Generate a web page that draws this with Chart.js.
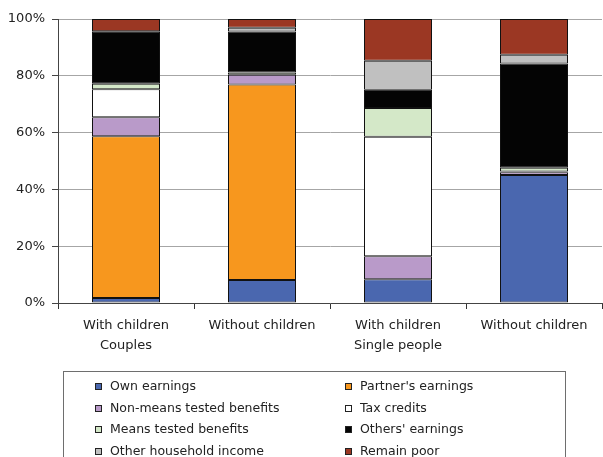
<!DOCTYPE html>
<html><head><meta charset="utf-8">
<script src="https://cdn.jsdelivr.net/npm/chart.js@4/dist/chart.umd.min.js"></script>
<style>html,body{margin:0;padding:0;background:#fff;overflow:hidden}</style>
</head>
<body>
<canvas id="c" width="603" height="457"></canvas>
<script>
// ---- data ----
const categories = [["With children", "Couples"], "Without children", ["With children", "Single people"], "Without children"];
const seriesNames = ["Own earnings", "Partner's earnings", "Non-means tested benefits", "Tax credits",
                     "Means tested benefits", "Others' earnings", "Other household income", "Remain poor"];
const ownEarnings      = [1.8, 8.1, 8.4, 45.1];
const partnersEarnings = [56.9, 68.8, null, null];
const nonMeansTested   = [6.7, 3.5, 8.1, 0.9];
const taxCredits       = [9.9, null, 42.0, 0.3];
const meansTested      = [1.9, 0.8, 10.2, 1.3];
const othersEarnings   = [18.5, 14.4, 6.4, 36.7];
const otherHousehold   = [null, 1.3, 10.2, 3.1];
const remainPoor       = [4.3, 3.1, 14.7, 12.6];
const yTicks = [0, 20, 40, 60, 80, 100];

const seriesValues = [ownEarnings, partnersEarnings, nonMeansTested, taxCredits,
                      meansTested, othersEarnings, otherHousehold, remainPoor];
const seriesColors = ["#4A67AF", "#F7971E", "#B99AC9", "#FFFFFF", "#D4E8C8", "#040404", "#C0C0C0", "#9B3723"];

const FONT = '"DejaVu Sans", Verdana, sans-serif';

const boxLegend = {
  id: 'boxLegend',
  afterDraw(chart) {
    const ctx = chart.ctx;
    ctx.save();
    ctx.strokeStyle = '#6e6e6e';
    ctx.lineWidth = 1;
    ctx.strokeRect(63.5, 371.5, 502, 120);
    ctx.font = '12.5px ' + FONT;
    ctx.textBaseline = 'middle';
    ctx.textAlign = 'left';
    chart.data.datasets.forEach((ds, i) => {
      const col = i % 2, row = Math.floor(i / 2);
      const x = col === 0 ? 95 : 345;
      const y = Math.round(386 + row * 21.5);
      ctx.fillStyle = '#222';
      ctx.fillRect(x, y - 3, 7, 7);
      ctx.fillStyle = ds.backgroundColor;
      ctx.fillRect(x + 1, y - 2, 5, 5);
      ctx.fillStyle = '#222';
      ctx.fillText(ds.label, x + 15, y + 1);
    });
    ctx.restore();
  }
};

new Chart(document.getElementById('c'), {
  type: 'bar',
  data: {
    labels: categories,
    datasets: seriesNames.map((n, i) => ({
      label: n,
      data: seriesValues[i],
      backgroundColor: seriesColors[i],
      borderColor: '#111',
      borderWidth: 1,
      borderSkipped: false,
      barPercentage: 1,
      categoryPercentage: 0.5
    }))
  },
  options: {
    responsive: false,
    animation: false,
    layout: { padding: { top: 19, right: 1, left: 0, bottom: 0 } },
    plugins: { legend: { display: false }, tooltip: { enabled: false } },
    scales: {
      x: {
        stacked: true,
        afterFit(s) { s.height = 154; },
        grid: { drawOnChartArea: false, tickLength: 6, color: '#333', offset: true },
        border: { color: '#444', width: 1 },
        ticks: { color: '#222', font: { family: FONT, size: 13, lineHeight: 1.5 }, padding: 7, maxRotation: 0, autoSkip: false }
      },
      y: {
        stacked: true,
        min: 0, max: 100,
        afterFit(s) { s.width = 58; },
        afterBuildTicks(s) { s.ticks = yTicks.map(v => ({ value: v })); },
        grid: { color: '#a6a6a6', tickLength: 6, tickColor: '#444' },
        border: { color: '#444', width: 1 },
        ticks: { color: '#222', padding: 7, font: { family: FONT, size: 13 }, callback: v => v + '%' }
      }
    }
  },
  plugins: [boxLegend]
});
</script>
</body></html>
